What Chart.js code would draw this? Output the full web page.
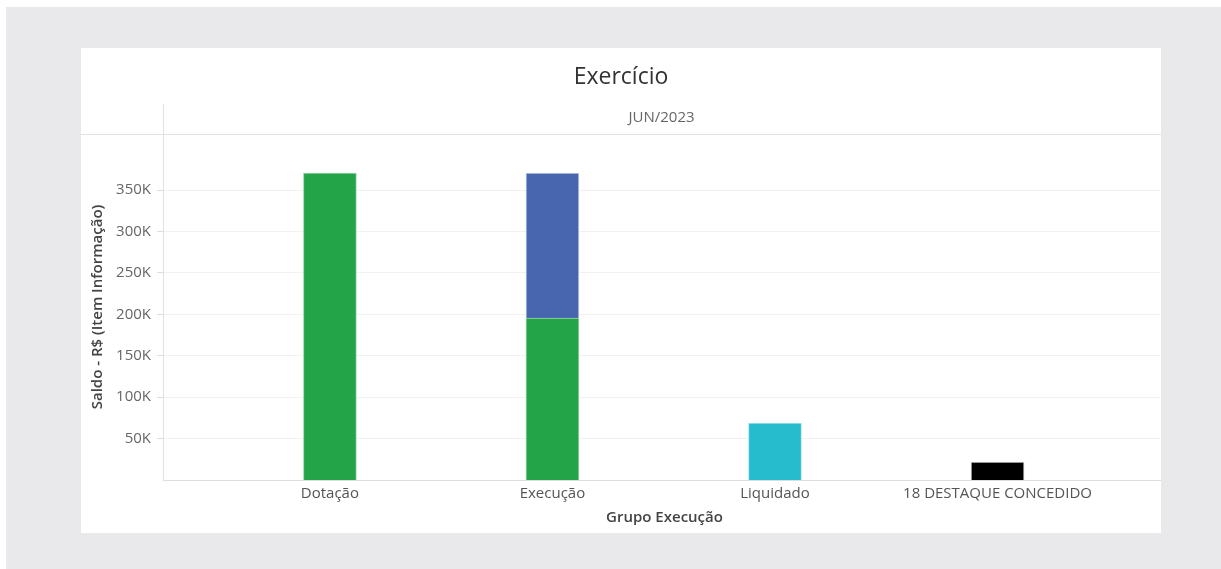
<!DOCTYPE html>
<html>
<head>
<meta charset="utf-8">
<script src="https://cdn.jsdelivr.net/npm/chart.js@4/dist/chart.umd.min.js"></script>
<style>
  html, body { margin: 0; padding: 0; background: #ffffff; }
  body { width: 1221px; height: 569px; position: relative; overflow: hidden; font-family: "Open Sans", sans-serif; }
  #panel { position: absolute; left: 6px; top: 7px; width: 1215px; height: 562px; background: #e9e9eb; }
  #card { position: absolute; left: 81px; top: 48px; width: 1080px; height: 485px; background: #ffffff; }
  canvas { display: block; }
</style>
</head>
<body>
<div id="panel"></div>
<div id="card"><canvas id="c" width="1080" height="485"></canvas></div>
<script>
const chartTitle = "Exercício";
const periodLabel = "JUN/2023";
const yAxisTitle = "Saldo - R$ (Item Informação)";
const xAxisTitle = "Grupo Execução";
const categories = ["Dotação", "Execução", "Liquidado", "18 DESTAQUE CONCEDIDO"];
const greenValues = [370500, 195500, null, null];
const blueValues = [null, 175000, null, null];
const cyanValues = [null, null, 68800, null];
const blackValues = [null, null, null, 21700];
const yTickValues = [50000, 100000, 150000, 200000, 250000, 300000, 350000];
const yMax = 417600;

function toPoints(arr) {
  return arr.map((v, i) => ({ x: i, y: v })).filter(p => p.y !== null);
}

const decorPlugin = {
  id: 'decor',
  beforeDraw(chart) {
    const ctx = chart.ctx;
    const a = chart.chartArea;
    ctx.save();
    ctx.strokeStyle = '#e2e2e2';
    ctx.lineWidth = 1;
    ctx.beginPath();
    ctx.moveTo(0, a.top + 0.5);
    ctx.lineTo(chart.width, a.top + 0.5);
    ctx.moveTo(a.left + 0.5, a.top - 30);
    ctx.lineTo(a.left + 0.5, a.top);
    ctx.stroke();
    ctx.restore();
  },
  afterDraw(chart) {
    const ctx = chart.ctx;
    const a = chart.chartArea;
    ctx.save();
    ctx.textAlign = 'center';
    ctx.textBaseline = 'middle';
    ctx.fillStyle = '#333333';
    ctx.font = '23px "Open Sans"';
    ctx.fillText(chartTitle, chart.width / 2, 29);
    ctx.fillStyle = '#666666';
    ctx.font = '15px "Open Sans"';
    ctx.fillText(periodLabel, (a.left + a.right) / 2, 70);
    ctx.fillStyle = '#444444';
    ctx.font = '600 15px "Open Sans"';
    ctx.fillText(xAxisTitle, (a.left + a.right) / 2 + 3, 470);
    ctx.translate(17, (a.top + a.bottom) / 2);
    ctx.rotate(-Math.PI / 2);
    ctx.fillText(yAxisTitle, 0, 0);
    ctx.restore();
  }
};

new Chart(document.getElementById('c'), {
  type: 'bar',
  data: {
    datasets: [
      { label: 'Verde', data: toPoints(greenValues), backgroundColor: '#23a449', borderColor: '#9fd7ae', borderWidth: 1 },
      { label: 'Azul', data: toPoints(blueValues), backgroundColor: '#4866b0', borderColor: '#c5cfe6', borderWidth: 1 },
      { label: 'Ciano', data: toPoints(cyanValues), backgroundColor: '#27bccd', borderColor: '#a8e3ea', borderWidth: 1 },
      { label: 'Preto', data: toPoints(blackValues), backgroundColor: '#000000', borderColor: '#cccccc', borderWidth: 1 }
    ]
  },
  options: {
    responsive: false,
    animation: false,
    layout: { padding: { top: 86, left: 0, right: 1, bottom: 0 } },
    datasets: { bar: { barThickness: 53 } },
    plugins: { legend: { display: false }, tooltip: { enabled: false }, title: { display: false } },
    scales: {
      x: {
        type: 'linear',
        stacked: true,
        offset: false,
        bounds: 'ticks',
        min: -0.75,
        max: 3.73,
        afterFit(scale) { scale.height = 53; },
        afterBuildTicks(scale) { scale.ticks = categories.map((c, i) => ({ value: i })); },
        grid: { display: false, drawTicks: false },
        border: { display: true, color: '#dddddd' },
        ticks: {
          autoSkip: false, maxRotation: 0, padding: 5,
          color: '#555555', font: { family: 'Open Sans', size: 15 },
          callback: (v) => categories[v]
        }
      },
      y: {
        stacked: true,
        min: 0,
        max: yMax,
        afterFit(scale) { scale.width = 82; },
        afterBuildTicks(scale) { scale.ticks = yTickValues.map(v => ({ value: v })); },
        grid: { color: '#f1f1f1', tickColor: '#dddddd', tickLength: 6 },
        border: { display: true, color: '#e2e2e2' },
        ticks: {
          padding: 6,
          color: '#666666', font: { family: 'Open Sans', size: 15 },
          callback: (v) => (v / 1000) + 'K'
        }
      }
    }
  },
  plugins: [decorPlugin]
});
</script>
</body>
</html>
